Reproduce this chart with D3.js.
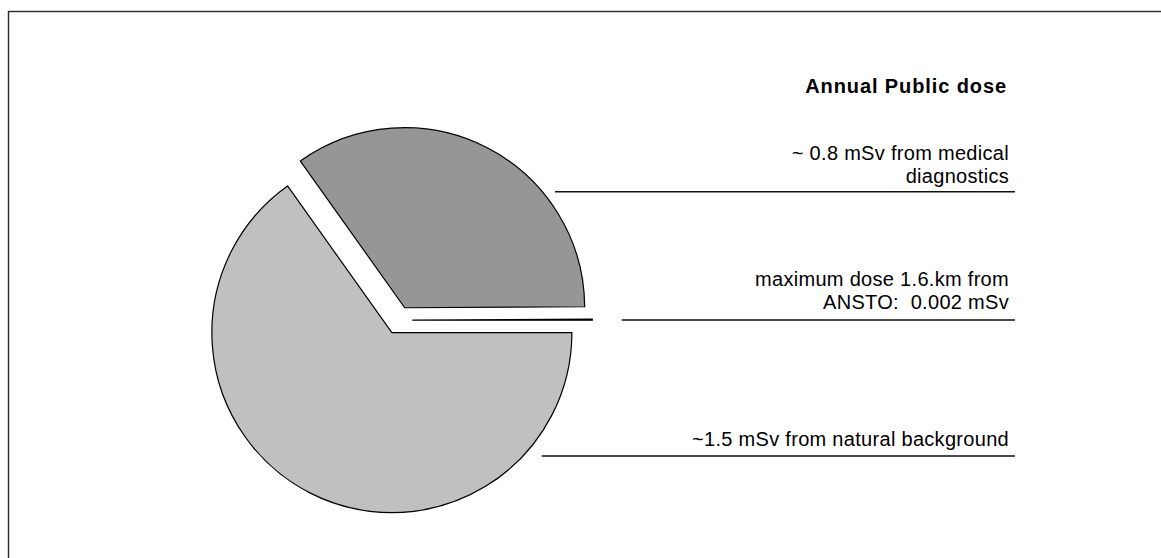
<!DOCTYPE html>
<html>
<head>
<meta charset="utf-8">
<script src="https://cdn.jsdelivr.net/npm/d3@7"></script>
<style>
html,body{margin:0;padding:0;background:#fff;}
svg{display:block;}
text{font-family:Arial,"Liberation Sans",sans-serif;fill:#000;}
</style>
</head>
<body>
<svg id="chart" width="1161" height="558"></svg>
<script>
// Data
const categories = ["natural background", "medical diagnostics", "ANSTO"];
const values = [1.5, 0.8, 0.002];
const sliceColors = ["#c0c0c0", "#969696", "#222222"];
const labelLines = [
  ["~1.5 mSv from natural background"],
  ["~ 0.8 mSv from medical", "diagnostics"],
  ["maximum dose 1.6.km from", "ANSTO:  0.002 mSv"]
];
const title = "Annual Public dose";

const svg = d3.select("#chart");
const W = 1161, H = 558;

// border (extends beyond the visible area at right/bottom)
svg.append("rect")
  .attr("x", 8.5).attr("y", 11.5)
  .attr("width", 1300).attr("height", 700)
  .attr("fill", "none").attr("stroke", "#2a2a2a").attr("stroke-width", 1.4);

// Pie
const cx = 398.3, cy = 320.2, R = 180, explode = 14;
const pie = d3.pie().sort(null).value(d => d)
  .startAngle(Math.PI / 2).endAngle(Math.PI / 2 + 2 * Math.PI);
const arc = d3.arc().innerRadius(0).outerRadius(R);
const arcs = pie(values);

const g = svg.append("g").attr("transform", `translate(${cx},${cy})`);
g.selectAll("path").data(arcs).enter().append("path")
  .attr("d", arc)
  .attr("transform", d => {
    const mid = (d.startAngle + d.endAngle) / 2;
    return `translate(${explode * Math.sin(mid)},${-explode * Math.cos(mid)})`;
  })
  .attr("fill", (d, i) => sliceColors[i])
  .attr("stroke", "#000")
  .attr("stroke-width", 1.2)
  .attr("stroke-linejoin", "miter");

// Labels
const textRight = 1009;
svg.append("text")
  .attr("x", 1007).attr("y", 92.7)
  .attr("text-anchor", "end")
  .attr("font-size", 20).attr("font-weight", "bold")
  .attr("letter-spacing", 0.9)
  .text(title);

const labelLayout = [
  { baseline: 445.5, lineY: 456, x1: 541.7 },
  { baseline: 159.5, lineY: 191.7, x1: 555 },
  { baseline: 286, lineY: 320, x1: 621.7 }
];
labelLines.forEach((lines, i) => {
  const L = labelLayout[i];
  lines.forEach((t, j) => {
    svg.append("text")
      .attr("x", textRight).attr("y", L.baseline + j * 23.3)
      .attr("text-anchor", "end")
      .attr("font-size", 20)
      .attr("letter-spacing", 0.3)
      .style("white-space", "pre")
      .attr("xml:space", "preserve")
      .text(t);
  });
  svg.append("line")
    .attr("x1", L.x1).attr("x2", 1015)
    .attr("y1", L.lineY).attr("y2", L.lineY)
    .attr("stroke", "#111").attr("stroke-width", 1.4);
});
</script>
</body>
</html>
